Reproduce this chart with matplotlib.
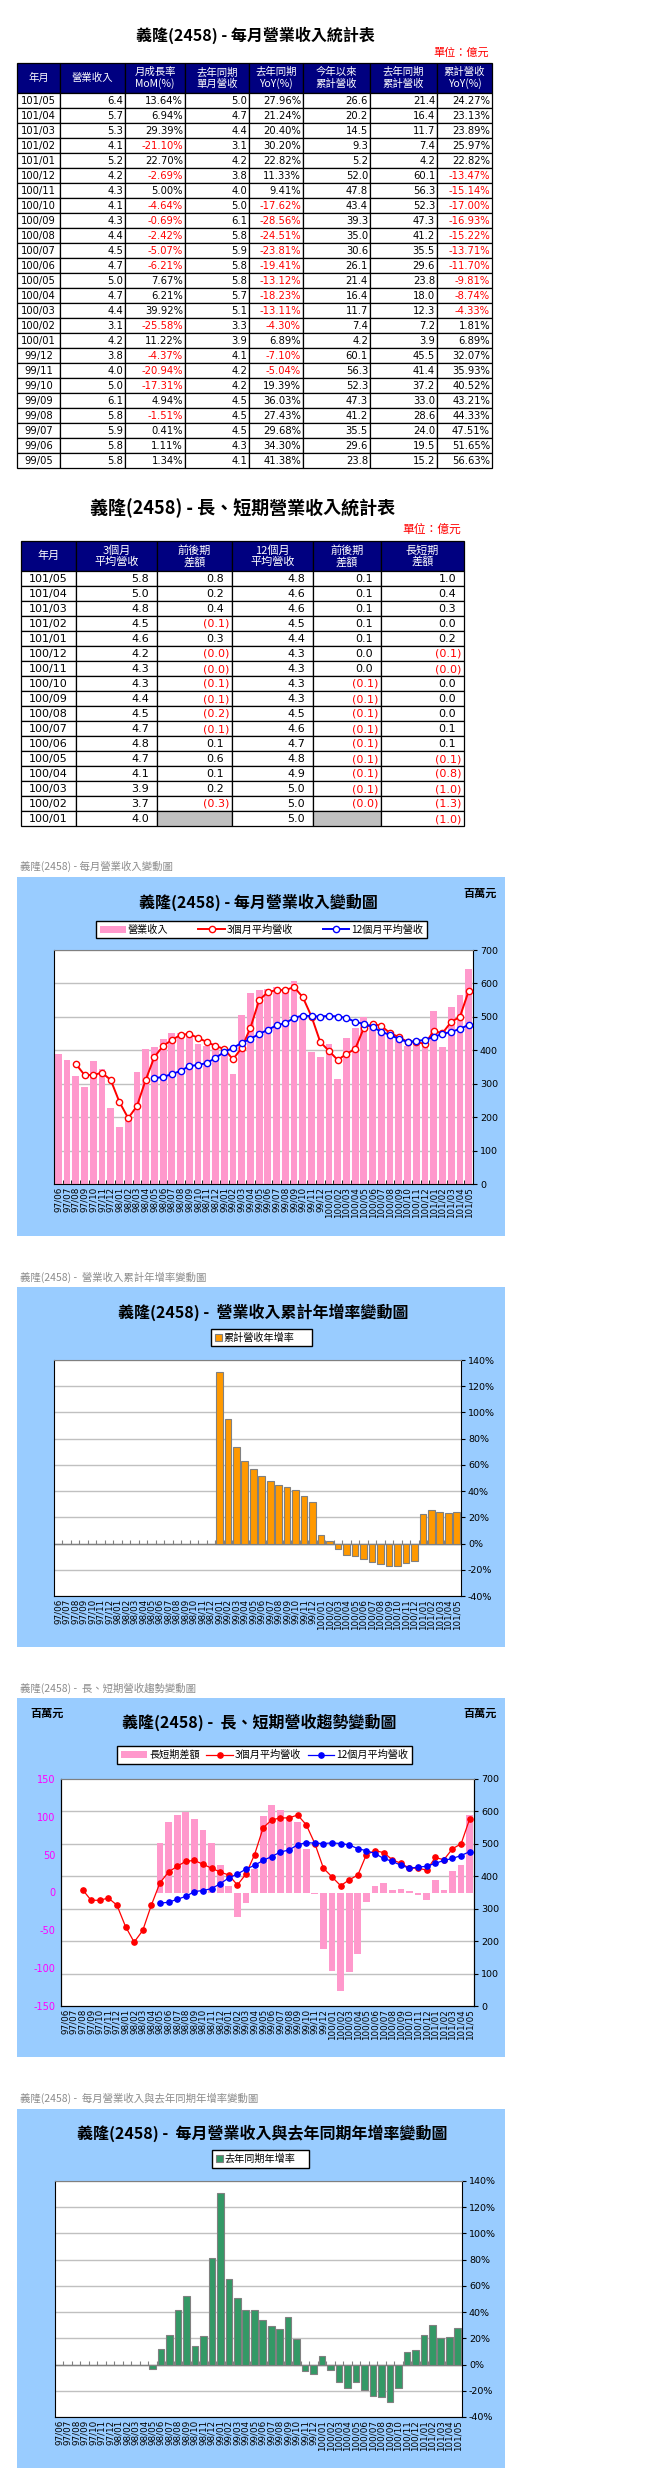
import numpy as np
import matplotlib.pyplot as plt
from matplotlib.patches import Rectangle

W, H = 655, 2477
CJK = ['Noto Sans CJK TC', 'DejaVu Sans']
NUM = ['DejaVu Sans', 'Noto Sans CJK TC']
plt.rcParams['font.family'] = CJK
plt.rcParams['axes.unicode_minus'] = False

# ---- monthly data (百萬元), 97/06 .. 101/05
months = ['97/06', '97/07', '97/08', '97/09', '97/10', '97/11', '97/12',
          '98/01', '98/02', '98/03', '98/04', '98/05', '98/06', '98/07', '98/08', '98/09', '98/10', '98/11', '98/12',
          '99/01', '99/02', '99/03', '99/04', '99/05', '99/06', '99/07', '99/08', '99/09', '99/10', '99/11', '99/12',
          '100/01', '100/02', '100/03', '100/04', '100/05', '100/06', '100/07', '100/08', '100/09', '100/10', '100/11', '100/12',
          '101/01', '101/02', '101/03', '101/04', '101/05']
nan = np.nan
revenue = [389, 371, 323, 290, 368, 343, 227,
           170, 195, 335, 404, 410, 434, 452, 452, 443, 419, 413, 407,
           398, 329, 505, 571, 580, 582, 590, 580, 607, 500, 396, 380,
           420, 313, 438, 466, 500, 470, 446, 436, 433, 413, 434, 422,
           518, 409, 529, 565, 642]
avg3 = [nan, nan, 359, 326, 326, 333, 311,
        245, 197, 233, 311, 380, 413, 431, 446, 449, 437, 425, 413,
        404, 373, 407, 467, 550, 574, 580, 580, 589, 559, 501, 425,
        398, 371, 389, 404, 467, 479, 473, 451, 440, 425, 425, 419,
        458, 451, 485, 500, 577]
avg12 = [nan, nan, nan, nan, nan, nan, nan,
         nan, nan, nan, nan, 317, 320, 329, 338, 353, 356, 362, 377,
         395, 407, 422, 434, 449, 461, 475, 481, 497, 504, 502, 501,
         503, 501, 497, 485, 479, 470, 455, 446, 434, 425, 428, 431,
         440, 449, 455, 464, 476]
ls_diff = [nan, nan, nan, nan, nan, nan, nan,
           nan, nan, nan, nan, 65, 93, 103, 107, 97, 83, 65, 37,
           9, -32, -14, 31, 101, 115, 109, 100, 93, 58, -2, -75,
           -104, -130, -105, -81, -12, 9, 13, 3, 5, 2, -3, -10,
           17, 3, 29, 37, 103]
cum_yoy = [nan, nan, nan, nan, nan, nan, nan,
           nan, nan, nan, nan, nan, nan, nan, nan, nan, nan, nan, nan,
           131, 95, 74, 63, 56.63, 51.65, 47.51, 44.33, 43.21, 40.52, 35.93, 32.07,
           6.89, 1.81, -4.33, -8.74, -9.81, -11.70, -13.71, -15.22, -16.93, -17.00, -15.14, -13.47,
           22.82, 25.97, 23.89, 23.13, 24.27]
yoy = [nan, nan, nan, nan, nan, nan, nan,
       nan, nan, nan, nan, -3.6, 11.7, 22.3, 41.4, 52.5, 14.0, 21.6, 81.0,
       131, 65, 50.5, 41.4, 41.38, 34.30, 29.68, 27.43, 36.03, 19.39, -5.04, -7.10,
       6.89, -4.30, -13.11, -18.23, -13.12, -19.41, -23.81, -24.51, -28.56, -17.62, 9.41, 11.33,
       22.82, 30.20, 20.40, 21.24, 27.96]

# ---- table 1 (億元)
t1_head = ['年月', '營業收入', '月成長率\nMoM(%)', '去年同期\n單月營收', '去年同期\nYoY(%)',
           '今年以來\n累計營收', '去年同期\n累計營收', '累計營收\nYoY(%)']
t1_month = ['101/05', '101/04', '101/03', '101/02', '101/01', '100/12', '100/11', '100/10', '100/09',
            '100/08', '100/07', '100/06', '100/05', '100/04', '100/03', '100/02', '100/01',
            '99/12', '99/11', '99/10', '99/09', '99/08', '99/07', '99/06', '99/05']
t1_rev = [6.4, 5.7, 5.3, 4.1, 5.2, 4.2, 4.3, 4.1, 4.3, 4.4, 4.5, 4.7, 5.0, 4.7, 4.4, 3.1, 4.2,
          3.8, 4.0, 5.0, 6.1, 5.8, 5.9, 5.8, 5.8]
t1_mom = [13.64, 6.94, 29.39, -21.10, 22.70, -2.69, 5.00, -4.64, -0.69, -2.42, -5.07, -6.21, 7.67,
          6.21, 39.92, -25.58, 11.22, -4.37, -20.94, -17.31, 4.94, -1.51, 0.41, 1.11, 1.34]
t1_prev = [5.0, 4.7, 4.4, 3.1, 4.2, 3.8, 4.0, 5.0, 6.1, 5.8, 5.9, 5.8, 5.8, 5.7, 5.1, 3.3, 3.9,
           4.1, 4.2, 4.2, 4.5, 4.5, 4.5, 4.3, 4.1]
t1_yoy = [27.96, 21.24, 20.40, 30.20, 22.82, 11.33, 9.41, -17.62, -28.56, -24.51, -23.81, -19.41,
          -13.12, -18.23, -13.11, -4.30, 6.89, -7.10, -5.04, 19.39, 36.03, 27.43, 29.68, 34.30, 41.38]
t1_cum = [26.6, 20.2, 14.5, 9.3, 5.2, 52.0, 47.8, 43.4, 39.3, 35.0, 30.6, 26.1, 21.4, 16.4, 11.7,
          7.4, 4.2, 60.1, 56.3, 52.3, 47.3, 41.2, 35.5, 29.6, 23.8]
t1_prevcum = [21.4, 16.4, 11.7, 7.4, 4.2, 60.1, 56.3, 52.3, 47.3, 41.2, 35.5, 29.6, 23.8, 18.0,
              12.3, 7.2, 3.9, 45.5, 41.4, 37.2, 33.0, 28.6, 24.0, 19.5, 15.2]
t1_cumyoy = [24.27, 23.13, 23.89, 25.97, 22.82, -13.47, -15.14, -17.00, -16.93, -15.22, -13.71,
             -11.70, -9.81, -8.74, -4.33, 1.81, 6.89, 32.07, 35.93, 40.52, 43.21, 44.33, 47.51,
             51.65, 56.63]

# ---- table 2 (億元)
t2_head = ['年月', '3個月\n平均營收', '前後期\n差額', '12個月\n平均營收', '前後期\n差額', '長短期\n差額']
t2_month = ['101/05', '101/04', '101/03', '101/02', '101/01', '100/12', '100/11', '100/10', '100/09',
            '100/08', '100/07', '100/06', '100/05', '100/04', '100/03', '100/02', '100/01']
t2_avg3 = ['5.8', '5.0', '4.8', '4.5', '4.6', '4.2', '4.3', '4.3', '4.4', '4.5', '4.7', '4.8', '4.7',
           '4.1', '3.9', '3.7', '4.0']
t2_d3 = ['0.8', '0.2', '0.4', '(0.1)', '0.3', '(0.0)', '(0.0)', '(0.1)', '(0.1)', '(0.2)', '(0.1)',
         '0.1', '0.6', '0.1', '0.2', '(0.3)', '']
t2_avg12 = ['4.8', '4.6', '4.6', '4.5', '4.4', '4.3', '4.3', '4.3', '4.3', '4.5', '4.6', '4.7', '4.8',
            '4.9', '5.0', '5.0', '5.0']
t2_d12 = ['0.1', '0.1', '0.1', '0.1', '0.1', '0.0', '0.0', '(0.1)', '(0.1)', '(0.1)', '(0.1)', '(0.1)',
          '(0.1)', '(0.1)', '(0.1)', '(0.0)', '']
t2_ls = ['1.0', '0.4', '0.3', '0.0', '0.2', '(0.1)', '(0.0)', '0.0', '0.0', '0.0', '0.1', '0.1',
         '(0.1)', '(0.8)', '(1.0)', '(1.3)', '(1.0)']

PANEL = '#99CCFF'
PINK = '#FF99CC'
GRID = '#C0C0C0'
CAP = '#8C8C8C'

fig = plt.figure(figsize=(W / 100, H / 100), dpi=100)
bg = fig.add_axes([0, 0, 1, 1])
bg.set_xlim(0, W)
bg.set_ylim(H, 0)
bg.axis('off')


def box(x0, y0, x1, y1):
    return [x0 / W, 1 - y1 / H, (x1 - x0) / W, (y1 - y0) / H]


def cell(x0, y0, x1, y1, fc='white'):
    bg.add_patch(Rectangle((x0, y0), x1 - x0, y1 - y0, facecolor=fc, edgecolor='black', lw=0.9))


# ================= table 1
t1_x = [17, 60, 125, 185, 249, 303, 370, 437, 492]
top, hdr, rh = 63, 93, 15
bg.text(255, 35, '義隆(2458) - 每月營業收入統計表', ha='center', va='center',
        fontsize=11.5, fontweight='bold')
bg.text(489, 53, '單位：億元', ha='right', va='center', fontsize=8, color='red')
for j in range(8):
    cell(t1_x[j], top, t1_x[j + 1], hdr, '#000080')
    bg.text((t1_x[j] + t1_x[j + 1]) / 2, (top + hdr) / 2, t1_head[j], ha='center', va='center',
            color='white', fontsize=7.5, linespacing=1.15)
cols = [t1_rev, t1_mom, t1_prev, t1_yoy, t1_cum, t1_prevcum, t1_cumyoy]
pct = [False, True, False, True, False, False, True]
for i, m in enumerate(t1_month):
    y0 = hdr + i * rh
    for j in range(8):
        cell(t1_x[j], y0, t1_x[j + 1], y0 + rh)
    bg.text((t1_x[0] + t1_x[1]) / 2, y0 + rh / 2 + 0.5, m, ha='center', va='center',
            fontsize=7.2, family=NUM)
    for j, (col, p) in enumerate(zip(cols, pct)):
        v = col[i]
        s = '%.2f%%' % v if p else '%.1f' % v
        bg.text(t1_x[j + 2] - 2, y0 + rh / 2 + 0.5, s, ha='right', va='center', fontsize=7.2,
                family=NUM, color='red' if v < 0 else 'black')

# ================= table 2
t2_x = [21, 76, 157, 232, 313, 381, 464]
top, hdr = 541, 571
bg.text(243, 508, '義隆(2458) - 長、短期營業收入統計表', ha='center', va='center',
        fontsize=13, fontweight='bold')
bg.text(461, 529, '單位：億元', ha='right', va='center', fontsize=8.5, color='red')
for j in range(6):
    cell(t2_x[j], top, t2_x[j + 1], hdr, '#000080')
    bg.text((t2_x[j] + t2_x[j + 1]) / 2, (top + hdr) / 2, t2_head[j], ha='center', va='center',
            color='white', fontsize=8, linespacing=1.1)
cols2 = [t2_avg3, t2_d3, t2_avg12, t2_d12, t2_ls]
for i, m in enumerate(t2_month):
    y0 = hdr + i * rh
    for j in range(6):
        fc = '#C0C0C0' if j in (2, 4) and cols2[j - 1][i] == '' else 'white'
        cell(t2_x[j], y0, t2_x[j + 1], y0 + rh, fc)
    bg.text((t2_x[0] + t2_x[1]) / 2, y0 + rh / 2 + 0.5, m, ha='center', va='center',
            fontsize=8, family=NUM)
    for j, col in enumerate(cols2):
        s = col[i]
        neg = s.startswith('(')
        xr = t2_x[j + 2] - 3 if neg else t2_x[j + 2] - 8
        bg.text(xr, y0 + rh / 2 + 0.5, s, ha='right', va='center', fontsize=8, family=NUM,
                color='red' if neg else 'black')


# ================= chart helpers
x = np.arange(len(months))


def panel(y0, y1, caption, cap_y, title, title_x, title_y):
    bg.add_patch(Rectangle((17, y0), 488, y1 - y0, facecolor=PANEL, edgecolor='none'))
    bg.text(20, cap_y, caption, ha='left', va='center', fontsize=7.5, color=CAP)
    bg.text(title_x, title_y, title, ha='center', va='center', fontsize=11.5, fontweight='bold')


def style_axes(ax, right=True):
    ax.set_xlim(-0.5, len(months) - 0.5)
    ax.set_facecolor('white')
    ax.set_xticks(x)
    ax.set_xticklabels(months, rotation=90, fontsize=6.3, family=NUM, va='top')
    ax.tick_params(axis='x', length=0, pad=2)
    for s in ('left', 'bottom', 'right'):
        ax.spines[s].set_color('black')
    ax.spines['top'].set_color('#808080')
    if right:
        ax.yaxis.tick_right()
        ax.tick_params(axis='y', labelsize=6.8, length=3, direction='out', pad=2)
        for lab in ax.get_yticklabels():
            lab.set_family(NUM)


def make_legend(ax, handles, labels, bx, ncol, **kw):
    leg = ax.legend(handles, labels, loc='center', bbox_to_anchor=box(*bx),
                    bbox_transform=fig.transFigure, ncol=ncol, mode='expand', fontsize=7.3,
                    frameon=True, fancybox=False, framealpha=1, edgecolor='black',
                    borderaxespad=0, borderpad=0.35, columnspacing=0.8, handletextpad=0.2, **kw)
    leg.get_frame().set_linewidth(1)
    return leg


# ================= chart 1
panel(877, 1236, '義隆(2458) - 每月營業收入變動圖', 866, '義隆(2458) - 每月營業收入變動圖', 258, 902)
bg.text(480, 893, '百萬元', ha='center', va='center', fontsize=8, fontweight='bold')
ax1 = fig.add_axes(box(54, 950, 473, 1184))
b1 = ax1.bar(x, revenue, width=0.78, color=PINK, zorder=2)
l1, = ax1.plot(x, avg3, color='red', lw=1.4, marker='o', ms=4.5, mfc='white', mec='red', mew=1, zorder=3)
l2, = ax1.plot(x, avg12, color='blue', lw=1.4, marker='o', ms=4.5, mfc='white', mec='blue', mew=1, zorder=3)
ax1.set_ylim(0, 700)
ax1.set_yticks(np.arange(0, 701, 100))
ax1.grid(axis='y', color=GRID, lw=1)
ax1.set_axisbelow(True)
style_axes(ax1)
ax1.set_xticks(x[:-1] + 0.5, minor=True)
ax1.tick_params(axis='x', which='minor', direction='in', length=3, color='black')
make_legend(ax1, [b1, l1, l2], ['營業收入', '3個月平均營收', '12個月平均營收'], (96, 918, 427, 941), 3,
            handlelength=2.6)

# ================= chart 2
panel(1287, 1647, '義隆(2458) -  營業收入累計年增率變動圖', 1277, '義隆(2458) -  營業收入累計年增率變動圖', 263, 1312)
ax2 = fig.add_axes(box(54, 1360, 461, 1596))
b2 = ax2.bar(x, cum_yoy, width=0.78, color='#FF9900', edgecolor='#808080', lw=0.8, zorder=3)
ax2.set_ylim(-40, 140)
ax2.set_yticks(np.arange(-40, 141, 20))
ax2.set_yticklabels(['%d%%' % v for v in range(-40, 141, 20)])
ax2.grid(axis='y', color=GRID, lw=1)
ax2.set_axisbelow(True)
ax2.axhline(0, color='#808080', lw=1, zorder=2)
ax2.vlines(np.arange(-0.5, len(months)), 0, 3, color='#808080', lw=0.8, zorder=2)
style_axes(ax2)
make_legend(ax2, [b2], ['累計營收年增率'], (211, 1326, 312, 1349), 1, handlelength=0.7, handleheight=0.7)

# ================= chart 3
panel(1698, 2057, '義隆(2458) -  長、短期營收趨勢變動圖', 1688, '義隆(2458) -  長、短期營收趨勢變動圖', 259, 1722)
bg.text(47, 1713, '百萬元', ha='center', va='center', fontsize=8, fontweight='bold')
bg.text(480, 1713, '百萬元', ha='center', va='center', fontsize=8, fontweight='bold')
ax3 = fig.add_axes(box(61, 1779, 474, 2006))
b3 = ax3.bar(x, ls_diff, width=0.78, color=PINK, zorder=2)
ax3.set_ylim(-150, 150)
ax3.set_yticks(np.arange(-150, 151, 50))
style_axes(ax3, right=False)
ax3.tick_params(axis='y', labelsize=7, length=0, colors='#FF00FF', pad=4)
for lab in ax3.get_yticklabels():
    lab.set_family(NUM)
ax3.spines['left'].set_color('black')
ax3r = ax3.twinx()
ax3r.set_ylim(0, 700)
ax3r.set_yticks(np.arange(0, 701, 100))
ax3r.tick_params(axis='y', labelsize=6.8, length=3, pad=2)
for lab in ax3r.get_yticklabels():
    lab.set_family(NUM)
for r in range(100, 700, 100):
    ax3.axhline(-150 + r * 300 / 700, color=GRID, lw=1, zorder=0)
l3, = ax3r.plot(x, avg3, color='red', lw=0.9, marker='o', ms=3.8, zorder=3)
l4, = ax3r.plot(x, avg12, color='blue', lw=0.9, marker='o', ms=3.8, zorder=3)
ax3r.spines['top'].set_color('#808080')
make_legend(ax3r, [b3, l3, l4], ['長短期差額', '3個月平均營收', '12個月平均營收'], (117, 1743, 412, 1767), 3,
            handlelength=2.6)

# ================= chart 4
panel(2109, 2468, '義隆(2458) -  每月營業收入與去年同期年增率變動圖', 2098,
      '義隆(2458) -  每月營業收入與去年同期年增率變動圖', 262, 2133)
ax4 = fig.add_axes(box(55, 2181, 462, 2417))
b4 = ax4.bar(x, yoy, width=0.78, color='#339966', edgecolor='#808080', lw=0.8, zorder=3)
ax4.set_ylim(-40, 140)
ax4.set_yticks(np.arange(-40, 141, 20))
ax4.set_yticklabels(['%d%%' % v for v in range(-40, 141, 20)])
ax4.grid(axis='y', color=GRID, lw=1)
ax4.set_axisbelow(True)
ax4.axhline(0, color='#808080', lw=1, zorder=2)
ax4.vlines(np.arange(-0.5, len(months)), 0, 3, color='#808080', lw=0.8, zorder=2)
style_axes(ax4)
make_legend(ax4, [b4], ['去年同期年增率'], (212, 2148, 309, 2170), 1, handlelength=0.7, handleheight=0.7)

fig.savefig('out.png', dpi=100)
